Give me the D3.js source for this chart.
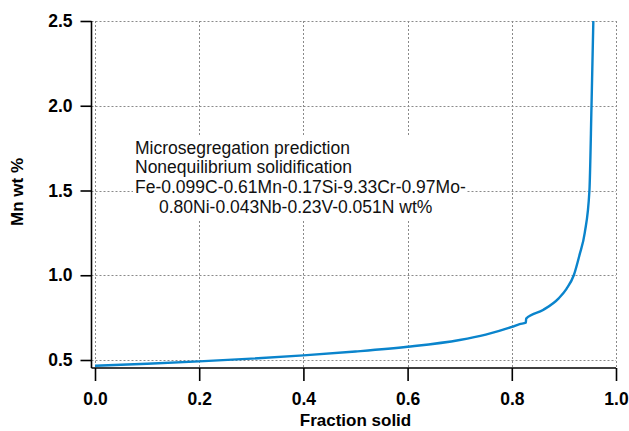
<!DOCTYPE html>
<html>
<head>
<meta charset="utf-8">
<script src="https://cdn.jsdelivr.net/npm/d3@7"></script>
<style>
  body { margin: 0; background: #fff; }
  svg { font-family: "Liberation Sans", Arial, sans-serif; }
</style>
</head>
<body>
<svg width="629" height="431"></svg>
<script>
// Data
var fracSolid = [0, 0.05, 0.1, 0.2, 0.3, 0.4, 0.5, 0.6, 0.7, 0.75, 0.8, 0.815, 0.827,
                 0.8275, 0.86, 0.89, 0.905, 0.919, 0.93, 0.94, 0.949, 0.953, 0.9565];
var mnWt = [0.466, 0.472, 0.478, 0.492, 0.508, 0.527, 0.55, 0.578, 0.618, 0.65, 0.695, 0.712, 0.72,
            0.744, 0.795, 0.864, 0.92, 1.0, 1.12, 1.25, 1.5, 2.0, 2.5];
var xTicks = [0, 0.2, 0.4, 0.6, 0.8, 1.0];
var yTicks = [0.5, 1.0, 1.5, 2.0, 2.5];
var noteLines = ["Microsegregation prediction", "Nonequilibrium solidification",
                 "Fe-0.099C-0.61Mn-0.17Si-9.33Cr-0.97Mo-", "0.80Ni-0.043Nb-0.23V-0.051N wt%"];

var svg = d3.select("svg");

// scales
var x = d3.scaleLinear().domain([0, 1]).range([95, 616]);
var y = d3.scaleLinear().domain([0.5, 2.5]).range([360, 21]);
var left = 91.5, bottom = 368;

// grid
var grid = svg.append("g")
    .attr("stroke", "#8a8a8a")
    .attr("stroke-width", 1)
    .attr("stroke-dasharray", "2,2");
grid.selectAll(".vg").data(xTicks).enter().append("line")
    .attr("x1", function (d) { return Math.round(x(d)) + 0.5; })
    .attr("x2", function (d) { return Math.round(x(d)) + 0.5; })
    .attr("y1", y(2.5)).attr("y2", bottom);
grid.selectAll(".hg").data(yTicks).enter().append("line")
    .attr("y1", function (d) { return Math.round(y(d)) + 0.5; })
    .attr("y2", function (d) { return Math.round(y(d)) + 0.5; })
    .attr("x1", left).attr("x2", x(1));

// white box behind the note
svg.append("rect")
    .attr("x", 133).attr("y", 137)
    .attr("width", 334).attr("height", 83)
    .attr("fill", "#fff");

// axes
var xAxis = d3.axisBottom(x).tickValues(xTicks).tickSize(13).tickPadding(12)
    .tickFormat(d3.format(".1f"));
var yAxis = d3.axisLeft(y).tickValues(yTicks).tickSize(11).tickPadding(8)
    .tickFormat(d3.format(".1f"));

var gx = svg.append("g").attr("transform", "translate(0," + bottom + ")").call(xAxis);
var gy = svg.append("g").attr("transform", "translate(" + left + ",0)").call(yAxis);

gx.select(".domain").attr("d", "M" + left + ",0H" + x(1));
gy.select(".domain").attr("d", "M0," + y(2.5) + "V" + bottom);
[gx, gy].forEach(function (g) {
    g.selectAll(".domain, .tick line").attr("stroke", "#000").attr("stroke-width", 1.6);
    g.selectAll(".tick text")
        .attr("fill", "#000")
        .style("font-size", "17.5px")
        .style("font-weight", "bold")
        .style("font-family", "'Liberation Sans', Arial, sans-serif");
});

// axis titles
svg.append("text")
    .attr("x", (x(0) + x(1)) / 2)
    .attr("y", 426)
    .attr("text-anchor", "middle")
    .style("font-size", "17px")
    .style("font-weight", "bold")
    .text("Fraction solid");

svg.append("text")
    .attr("transform", "translate(23," + 192 + ") rotate(-90)")
    .attr("text-anchor", "middle")
    .style("font-size", "17px")
    .style("font-weight", "bold")
    .text("Mn wt %");

// note
var noteX = [135, 135, 135, 159];
var noteY = [153.5, 173, 193, 212.5];
svg.append("g").selectAll("text").data(noteLines).enter().append("text")
    .attr("x", function (d, i) { return noteX[i]; })
    .attr("y", function (d, i) { return noteY[i]; })
    .style("font-size", "17.5px")
    .attr("fill", "#111")
    .text(function (d) { return d; });

// curve
var pts = fracSolid.map(function (f, i) { return [f, mnWt[i]]; });
var line = d3.line()
    .x(function (d) { return x(d[0]); })
    .y(function (d) { return y(d[1]); })
    .curve(d3.curveMonotoneX);

svg.append("path")
    .datum(pts)
    .attr("d", line)
    .attr("fill", "none")
    .attr("stroke", "#0a84cc")
    .attr("stroke-width", 2.4);
</script>
</body>
</html>
